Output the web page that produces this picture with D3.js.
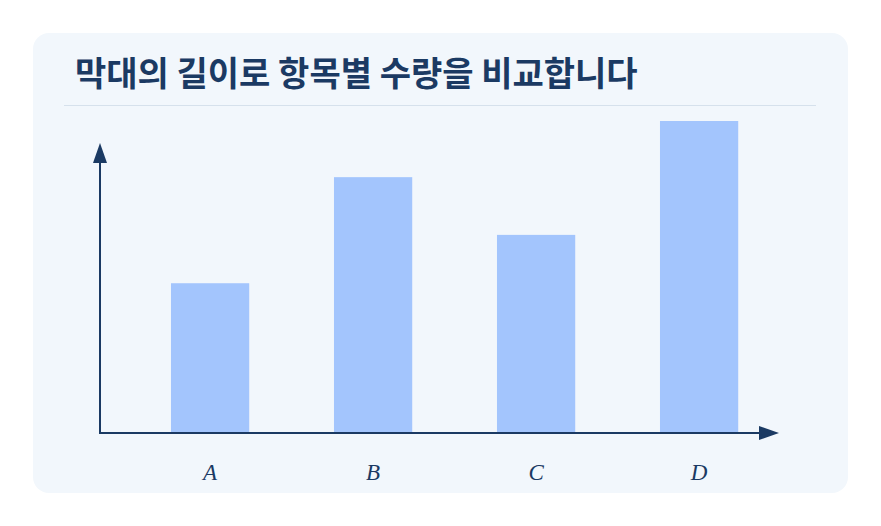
<!DOCTYPE html>
<html>
<head>
<meta charset="utf-8">
<script src="https://cdn.jsdelivr.net/npm/d3@7"></script>
<style>
  html, body { margin: 0; padding: 0; background: #ffffff; }
  svg { display: block; }
</style>
</head>
<body>
<div id="chart"></div>
<script>
// data
var categories = ["A", "B", "C", "D"];
var values = [48, 82, 63.5, 100];
var title = "막대의 길이로 항목별 수량을 비교합니다";

var width = 881, height = 526;
var navy = "#1b3a63";

var svg = d3.select("#chart").append("svg")
    .attr("width", width)
    .attr("height", height);

// card
svg.append("rect")
    .attr("x", 33).attr("y", 33)
    .attr("width", 815).attr("height", 460)
    .attr("rx", 16)
    .attr("fill", "#f2f7fc");

// title
svg.append("text")
    .attr("x", 75).attr("y", 86)
    .attr("font-family", "'Noto Sans CJK KR', 'Noto Sans', sans-serif")
    .attr("font-weight", 700)
    .attr("font-size", 34)
    .attr("fill", navy)
    .text(title);

svg.append("line")
    .attr("x1", 64).attr("x2", 816)
    .attr("y1", 105.5).attr("y2", 105.5)
    .attr("stroke", "#d6e1ec")
    .attr("stroke-width", 1);

// scales
var x = d3.scaleBand()
    .domain(categories)
    .range([128.6, 780.6])
    .paddingInner(0.52)
    .paddingOuter(0.26);

var y = d3.scaleLinear()
    .domain([0, 100])
    .range([433, 121]);

// bars
svg.selectAll(".bar")
    .data(values)
    .enter().append("rect")
    .attr("class", "bar")
    .attr("x", (d, i) => x(categories[i]))
    .attr("y", d => y(d))
    .attr("width", x.bandwidth())
    .attr("height", d => y(0) - y(d))
    .attr("fill", "#a3c5fd");

// axes with arrows
var x0 = 100;
svg.append("line")
    .attr("x1", x0).attr("x2", 762)
    .attr("y1", y(0)).attr("y2", y(0))
    .attr("stroke", navy).attr("stroke-width", 2);
svg.append("line")
    .attr("x1", x0).attr("x2", x0)
    .attr("y1", y(0) + 1).attr("y2", 160)
    .attr("stroke", navy).attr("stroke-width", 2);

svg.append("path")
    .attr("d", "M759," + (y(0) - 7) + "L779," + y(0) + "L759," + (y(0) + 7) + "Z")
    .attr("fill", navy);
svg.append("path")
    .attr("d", "M" + (x0 - 7) + ",163L" + x0 + ",143L" + (x0 + 7) + ",163Z")
    .attr("fill", navy);

// category labels
svg.selectAll(".lbl")
    .data(categories)
    .enter().append("text")
    .attr("class", "lbl")
    .attr("x", d => x(d) + x.bandwidth() / 2)
    .attr("y", 480)
    .attr("text-anchor", "middle")
    .attr("font-family", "'Liberation Serif', 'DejaVu Serif', serif")
    .attr("font-style", "italic")
    .attr("font-size", 23)
    .attr("fill", navy)
    .text(d => d);
</script>
</body>
</html>
